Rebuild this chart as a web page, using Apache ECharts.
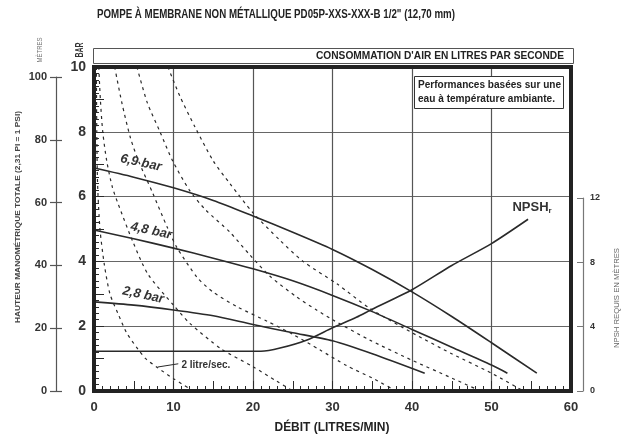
<!DOCTYPE html>
<html>
<head>
<meta charset="utf-8">
<script src="https://cdn.jsdelivr.net/npm/echarts@6/dist/echarts.min.js"></script>
<style>
  html, body { margin: 0; padding: 0; background: #fff; }
  #main { width: 630px; height: 440px; }
</style>
</head>
<body>
<div id="main"></div>
<script>
const FONT = "'Liberation Sans', Arial, sans-serif";
const INK = '#2a2a2a';

// Debit ticks (litres/min) and the three pressure scales
const debitTicks = [0, 10, 20, 30, 40, 50, 60];
const barTicks = [0, 2, 4, 6, 8, 10];
const metreTicks = [0, 20, 40, 60, 80, 100];
const npshTicks = [0, 4, 8, 12];

// Head curves, [debit l/min, bar]
const head69 = [[0, 6.88], [5, 6.6], [10, 6.27], [15, 5.88], [20, 5.4], [25, 4.9], [30, 4.37], [35, 3.75], [40, 3.06], [45, 2.3], [50, 1.49], [55.7, 0.55]];
const head48 = [[0, 4.97], [5, 4.7], [10, 4.41], [15, 4.1], [20, 3.77], [25, 3.4], [30, 2.95], [35, 2.45], [40, 1.9], [45, 1.35], [50, 0.8], [52, 0.55]];
const head28 = [[0, 2.75], [5, 2.65], [10, 2.5], [15, 2.32], [20, 2.05], [25, 1.8], [30, 1.55], [35, 1.15], [41.6, 0.55]];

// NPSH required, [debit l/min, metres]
const npsh = [[0, 2.45], [21, 2.45], [23.4, 2.65], [26.8, 3.15], [30, 3.9], [33, 4.55], [35, 5.05], [40, 6.25], [45, 7.75], [50, 9.1], [54.6, 10.6]];

// Air consumption curves (dashed), [debit l/min, bar]
const air1 = [[0.3, 10], [0.35, 8], [0.45, 6.4], [0.75, 5], [1.3, 3.9], [2, 3.0], [3, 2.4], [4.1, 1.8], [5.5, 1.3], [6.5, 1.0], [8, 0.72], [10, 0.38], [12.5, 0]];
const air2 = [[0.6, 10], [0.8, 9], [1.1, 8], [1.6, 7.1], [2.3, 6.3], [3, 5.8], [4.9, 4.6], [6.8, 3.6], [10, 2.65], [12, 2.1], [16, 1.3], [20, 0.75], [23, 0.3], [25, 0]];
const air3 = [[2.6, 10], [3.5, 8.9], [4.6, 7.8], [5.6, 7.1], [7.4, 6.1], [9.2, 5.06], [10.4, 4.44], [13, 3.5], [15, 3.05], [18, 2.6], [21.8, 2.15], [25, 1.75], [28.4, 1.27], [31.8, 0.78], [35, 0.4], [38, 0]];
const air4 = [[5.4, 10], [6.7, 8.9], [8.3, 8], [9.9, 7.1], [12, 6.2], [14, 5.6], [17.1, 4.9], [19.6, 4.2], [22.1, 3.55], [25.5, 2.9], [28, 2.5], [30, 2.2], [34.7, 1.57], [40, 0.95], [45, 0.4], [48.6, 0]];
const air5 = [[9.3, 10], [10.8, 9.1], [12.7, 8.15], [15, 7.1], [17.1, 6.4], [20, 5.5], [23.4, 4.65], [26.3, 4.0], [30.6, 3.3], [34.7, 2.55], [40, 1.8], [45, 1.15], [50, 0.55], [54, 0]];

const myChart = echarts.init(document.getElementById('main'));

const span = a => ({ min: a[0], max: a[a.length - 1], interval: a[1] - a[0] });

// the print uses a narrow face, so squeeze the long texts to their width
const measureCtx = document.createElement('canvas').getContext('2d');
function fitScale(text, font, width) {
  measureCtx.font = font;
  return width / measureCtx.measureText(text).width;
}

function squeezed(text, font, width, x, y, opts) {
  opts = opts || {};
  const el = {
    type: 'text', x: x, y: y, rotation: opts.rotation || 0,
    scaleX: fitScale(text, font, width),
    z: opts.z || 10,
    style: {
      text: text, font: font, fill: opts.fill || '#222',
      textAlign: opts.align || 'left', textVerticalAlign: 'middle'
    }
  };
  return el;
}

function headSeries(name, data, label, coord) {
  return {
    name: name, type: 'line', data: data, xAxisIndex: 0, yAxisIndex: 0,
    smooth: 0.25, symbol: 'none',
    lineStyle: { color: INK, width: 1.6 },
    markPoint: {
      symbol: 'circle', symbolSize: 0, silent: true,
      label: {
        show: true, formatter: label, position: 'inside', rotate: -12,
        fontFamily: FONT, fontStyle: 'italic', fontWeight: 'bold', fontSize: 13, color: '#333'
      },
      data: [{ coord: coord }]
    },
    z: 4
  };
}

function airSeries(name, data) {
  return {
    name: name, type: 'line', data: data, xAxisIndex: 0, yAxisIndex: 0,
    smooth: 0.25, symbol: 'none',
    lineStyle: { color: INK, width: 1.2, type: [3, 4] },
    z: 3
  };
}

const air1Series = airSeries('2 l/s', air1);
air1Series.markPoint = {
  symbol: 'circle', symbolSize: 0, silent: true,
  label: { show: true, formatter: '2 litre/sec.', position: 'right', distance: 0, fontFamily: FONT, fontWeight: 'bold', fontSize: 10, color: '#333' },
  data: [{ coord: [11.0, 0.8] }]
};
air1Series.markLine = {
  symbol: 'none', silent: true, label: { show: false },
  lineStyle: { color: INK, type: 'solid', width: 1 },
  data: [[{ coord: [8, 0.74] }, { coord: [10.6, 0.84] }]]
};

const boldF = size => `bold ${size}px ${FONT}`;

const option = {
  animation: false,
  backgroundColor: '#fff',
  grid: [
    { left: 94, right: 59, top: 67, bottom: 49, show: true, borderColor: '#222', borderWidth: 4, backgroundColor: 'transparent', z: 5 },
    { left: 583, width: 1, top: 198, bottom: 49 },
    { left: 56, width: 1, top: 77, bottom: 49 }
  ],
  xAxis: [
    {
      gridIndex: 0, type: 'value', ...span(debitTicks),
      axisLine: { show: false },
      axisTick: { show: false },
      splitLine: { show: true, lineStyle: { color: '#555', width: 1.2 } },
      axisLabel: { fontFamily: FONT, fontWeight: 'bold', fontSize: 13, color: '#333', margin: 10 }
    },
    {
      gridIndex: 0, type: 'value', min: 0, max: 60, interval: 5, position: 'bottom',
      axisLine: { show: false },
      axisLabel: { show: false },
      splitLine: { show: false },
      axisTick: { show: true, inside: true, length: 10, lineStyle: { color: INK, width: 1 } },
      minorTick: { show: true, splitNumber: 5, length: 5, lineStyle: { color: INK, width: 1 } }
    },
    { gridIndex: 1, type: 'value', show: false },
    { gridIndex: 2, type: 'value', show: false }
  ],
  yAxis: [
    {
      gridIndex: 0, type: 'value', ...span(barTicks),
      axisLine: { show: false },
      axisTick: { show: false },
      splitLine: { show: true, lineStyle: { color: '#666', width: 1.2 } },
      axisLabel: { fontFamily: FONT, fontWeight: 'bold', fontSize: 14, color: '#333', margin: 8 }
    },
    {
      gridIndex: 0, type: 'value', min: 0, max: 10, interval: 1, position: 'left',
      axisLine: { show: false }, axisLabel: { show: false }, splitLine: { show: false },
      axisTick: { show: true, inside: true, length: 10, lineStyle: { color: INK, width: 1 } },
      minorTick: { show: true, splitNumber: 5, length: 5, lineStyle: { color: INK, width: 1 } }
    },
    // hidden scale for NPSH inside the plot: 12 m lines up with 6 bar
    { gridIndex: 0, type: 'value', min: 0, max: 20, show: false },
    {
      gridIndex: 1, type: 'value', position: 'right', ...span(npshTicks),
      axisLine: { show: true, lineStyle: { color: '#777', width: 1.2 } },
      axisTick: { show: true, inside: true, length: 6, lineStyle: { color: '#777' } },
      splitLine: { show: false },
      axisLabel: { fontFamily: FONT, fontWeight: 'bold', fontSize: 9, color: '#333', margin: 6 }
    },
    {
      gridIndex: 2, type: 'value', position: 'left', ...span(metreTicks),
      axisLine: { show: true, lineStyle: { color: '#555', width: 1.2 } },
      axisTick: { show: true, length: 6, lineStyle: { color: '#555', width: 1.2 } },
      splitLine: { show: false },
      axisLabel: { fontFamily: FONT, fontWeight: 'bold', fontSize: 11, color: '#333', margin: 9 }
    },
    {
      gridIndex: 2, type: 'value', position: 'left', ...span(metreTicks),
      axisLine: { show: false }, axisLabel: { show: false }, splitLine: { show: false },
      axisTick: { show: true, inside: true, length: 6, lineStyle: { color: '#555', width: 1.2 } }
    }
  ],
  graphic: [
    squeezed('POMPE À MEMBRANE NON MÉTALLIQUE PD05P-XXS-XXX-B 1/2" (12,70 mm)', boldF(12.5), 358, 97, 15),
    { type: 'rect', shape: { x: 93.5, y: 48.5, width: 480, height: 15 }, style: { fill: 'none', stroke: '#555', lineWidth: 1 } },
    squeezed("CONSOMMATION D'AIR EN LITRES PAR SECONDE", boldF(11.5), 248, 564, 56, { align: 'right' }),
    { type: 'rect', shape: { x: 414.5, y: 76.5, width: 149, height: 32 }, style: { fill: '#fff', stroke: '#333', lineWidth: 1 }, z: 10 },
    squeezed('Performances basées sur une', boldF(11), 143, 418, 85, { z: 11 }),
    squeezed('eau à température ambiante.', boldF(11), 137, 418, 99, { z: 11 }),
    squeezed('DÉBIT (LITRES/MIN)', boldF(12.5), 115, 332, 428, { align: 'center' }),
    squeezed('MÈTRES', `8px ${FONT}`, 25, 40, 50, { rotation: Math.PI / 2, align: 'center', fill: '#777' }),
    squeezed('BAR', boldF(11), 15, 80, 50, { rotation: Math.PI / 2, align: 'center', fill: '#333' }),
    squeezed('HAUTEUR MANOMÉTRIQUE TOTALE (2,31 PI = 1 PSI)', boldF(7), 212, 18, 217, { rotation: Math.PI / 2, align: 'center', fill: '#444' }),
    squeezed('NPSH REQUIS EN MÈTRES', `8px ${FONT}`, 100, 617, 298, { rotation: Math.PI / 2, align: 'center', fill: '#666' })
  ],
  series: [
    air1Series,
    airSeries('4 l/s', air2),
    airSeries('6 l/s', air3),
    airSeries('8 l/s', air4),
    airSeries('10 l/s', air5),
    headSeries('6,9 bar', head69, '6,9 bar', [5.9, 7.04]),
    headSeries('4,8 bar', head48, '4,8 bar', [7.2, 4.94]),
    headSeries('2,8 bar', head28, '2,8 bar', [6.2, 2.96]),
    {
      name: 'NPSHr', type: 'line', data: npsh, xAxisIndex: 0, yAxisIndex: 2,
      smooth: 0.25, symbol: 'none',
      lineStyle: { color: INK, width: 1.6 },
      markPoint: {
        symbol: 'circle', symbolSize: 0, silent: true,
        label: {
          show: true, position: 'inside', formatter: '{a|NPSH}{b|r}',
          rich: {
            a: { fontFamily: FONT, fontWeight: 'bold', fontSize: 13, color: '#333' },
            b: { fontFamily: FONT, fontWeight: 'bold', fontSize: 8, color: '#333', padding: [8, 0, 0, 0] }
          }
        },
        data: [{ coord: [55.1, 11.36] }]
      },
      z: 4
    }
  ]
};

myChart.setOption(option);
</script>
</body>
</html>
